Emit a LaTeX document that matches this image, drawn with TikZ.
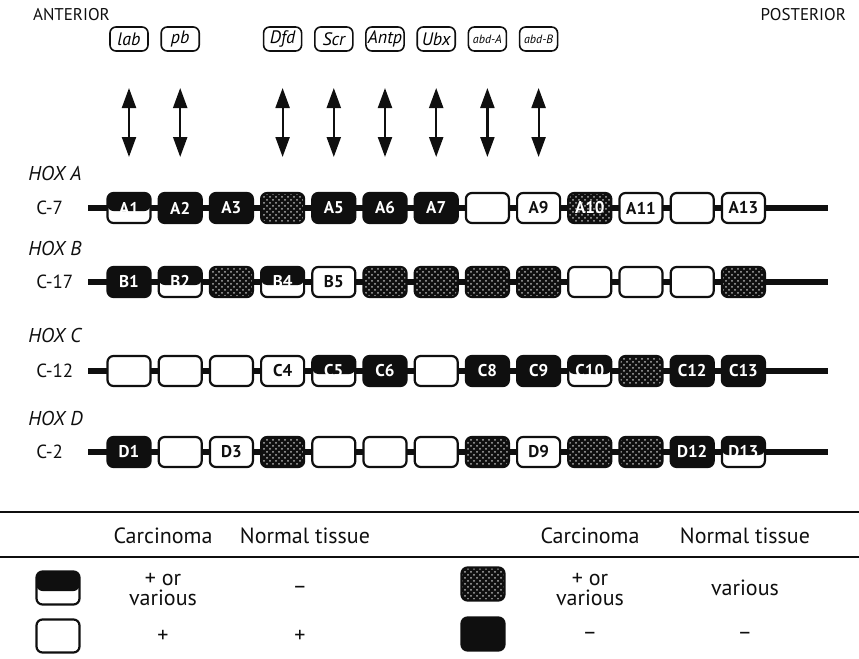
\documentclass[tikz,border=0pt]{standalone}
\usepackage{fontspec}
\setmainfont{PT Sans}
\usetikzlibrary{arrows.meta,positioning,calc,patterns}
\definecolor{ink}{RGB}{15,15,15}
\definecolor{speck}{RGB}{175,175,175}
\tikzset{
  gene/.style={draw=ink,line width=1.1pt,rounded corners=3pt,minimum width=21.5pt,
    minimum height=15pt,inner sep=0pt,font=\fontsize{8.5}{8.5}\selectfont\bfseries},
  genek/.style={fill=ink,text=white},
  genew/.style={fill=white,text=ink},
  genee/.style={fill=white},
  geneh/.style={fill=white,text=white,path picture={
    \fill[ink] (path picture bounding box.north west)
      rectangle ([yshift=-1.5pt]path picture bounding box.east);}},
  genes/.style={preaction={fill=ink},pattern=crosshatch dots,pattern color=speck},
  geneS/.style={genes,text=white},
  hox/.style={draw=ink,line width=0.8pt,rounded corners=3pt,minimum width=19pt,
    minimum height=12pt,inner sep=1pt},
  dbl/.style={{Triangle[length=10pt,width=7pt]}-{Triangle[length=10pt,width=7pt]},
    line width=1.1pt,ink},
  chrom/.style={line width=3pt,ink},
  rule/.style={line width=1pt,ink},
  side/.style={font=\fontsize{8.5}{9}\selectfont,text=ink},
  clus/.style={font=\fontsize{10}{10}\selectfont\itshape,text=ink,inner sep=0pt},
  chr/.style={font=\fontsize{9.5}{10}\selectfont,text=ink,inner sep=0pt},
  lbl/.style={font=\fontsize{11}{10}\selectfont,text=ink,align=center},
}
% label only where the box shows one
\newcommand{\genelabel}[3]{\if#1e\else\if#1s\else#2#3\fi\fi}

\begin{document}
\begin{tikzpicture}[x=0.5pt,y=-0.5pt]
  \useasboundingbox (0,0) rectangle (859,659);

  \node[side,anchor=west] (ant) at (26,15) {ANTERIOR};
  \node[side,anchor=east] (post) at (853,15) {POSTERIOR};

  % homeotic genes of the fly and their partners
  \foreach \g/\n/\k/\fs in {lab/lab/1/9,pb/pb/2/9,dfd/Dfd/4/9,scr/Scr/5/9,
      antp/Antp/6/9,ubx/Ubx/7/9,abdA/abd-A/8/6,abdB/abd-B/9/6}{
    \node[hox,font=\fontsize{\fs}{\fs}\selectfont\itshape] (\g)
      at ({129+51.2*(\k-1)},39) {\n};
    \coordinate (\g-up) at ({129+51.2*(\k-1)},88);
    \coordinate (\g-dn) at ({129+51.2*(\k-1)},157);
    \draw[dbl] (\g-up) -- (\g-dn);
  }

  % the four clusters
  \foreach \row/\hy in {A/173,B/248,C/335,D/418}
    \node[clus,anchor=west] (hox\row) at (28,\hy) {HOX \row};

  \foreach \row/\y/\chr/\types in {A/208/C-7/{h,k,k,s,k,k,k,e,w,S,w,e,w},
      B/282/C-17/{k,h,s,h,w,s,s,s,s,e,e,e,s},
      C/371/C-12/{e,e,e,w,h,k,e,k,k,h,s,k,k},
      D/452/C-2/{k,e,w,s,e,e,e,s,w,s,s,k,h}}{
    \coordinate (\row-start) at (88,\y);
    \coordinate (\row-end) at (828,\y);
    \draw[chrom] (\row-start) -- (\row-end);
    \node[chr,anchor=west] (\row-chr) at (36,\y) {\chr};
    \foreach \t [count=\i] in \types
      \node[gene,gene\t] (\row\i) at ({129+51.2*(\i-1)},\y) {\genelabel{\t}{\row}{\i}};
  }

  % key
  \coordinate (r1w) at (0,512);
  \coordinate (r1e) at (859,512);
  \coordinate (r2w) at (0,557);
  \coordinate (r2e) at (859,557);
  \draw[rule] (r1w) -- (r1e);
  \draw[rule] (r2w) -- (r2e);
  \node[lbl] (carcL) at (163,536) {Carcinoma};
  \node[lbl] (normL) at (305,536) {Normal tissue};
  \node[lbl] (carcR) at (590,536) {Carcinoma};
  \node[lbl] (normR) at (745,536) {Normal tissue};

  \node[gene,geneh,minimum height=16.5pt] (keyh) at (58,588) {};
  \node[gene,genee,minimum height=16.5pt] (keyw) at (58,636) {};
  \node[gene,genes,minimum height=16.5pt] (keys) at (483,584) {};
  \node[gene,genek,minimum height=16.5pt] (keyk) at (483,634) {};

  \node[lbl] (h-carc) at (163,590) {+ or\\various};
  \node[lbl] (h-norm) at (300,590) {\textendash};
  \node[lbl] (w-carc) at (163,636) {+};
  \node[lbl] (w-norm) at (300,636) {+};
  \node[lbl] (s-carc) at (590,590) {+ or\\various};
  \node[lbl] (s-norm) at (745,588) {various};
  \node[lbl] (k-carc) at (590,636) {\textendash};
  \node[lbl] (k-norm) at (745,636) {\textendash};
\end{tikzpicture}
\end{document}
